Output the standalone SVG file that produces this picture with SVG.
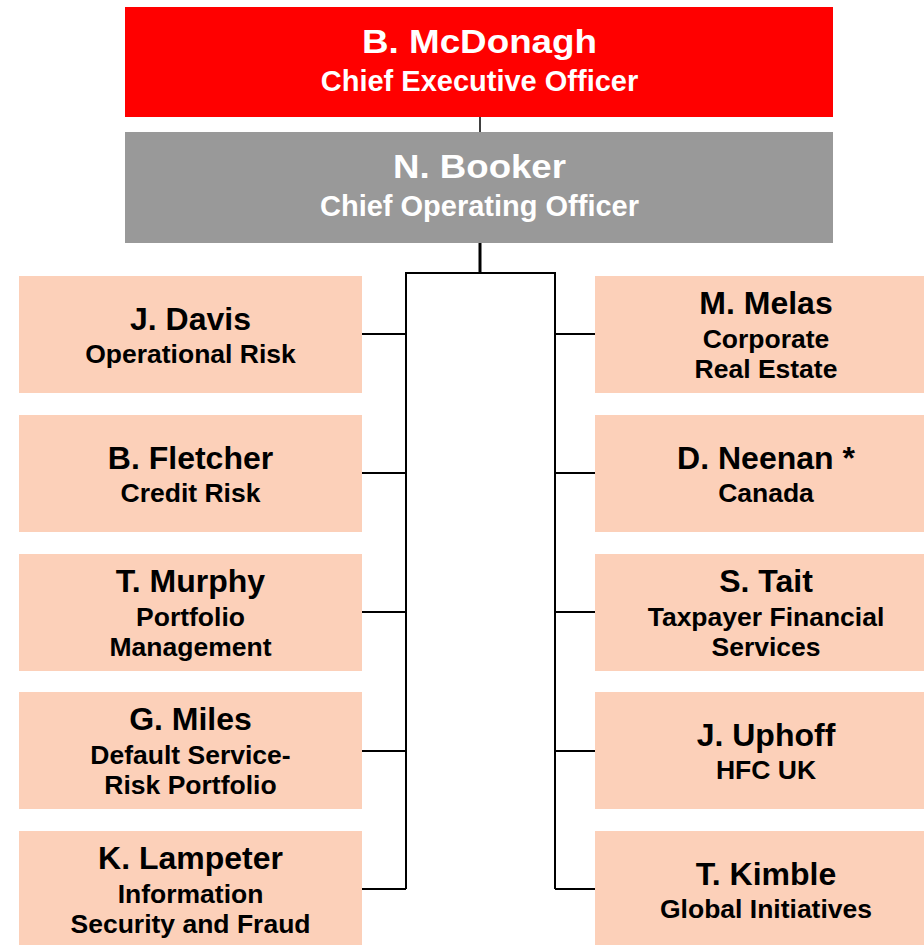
<svg xmlns="http://www.w3.org/2000/svg" width="924" height="945" viewBox="0 0 924 945">
<style>
text{font-family:"Liberation Sans",Arial,sans-serif;font-weight:bold;text-anchor:middle}
.exec{fill:#FF0000}
.coo{fill:#999999}
.box{fill:#FCD0B9}
.wn{fill:#FFFFFF;font-size:34px}
.ws{fill:#FFFFFF;font-size:29px}
.n{fill:#000000;font-size:32px}
.s{fill:#000000;font-size:26.5px}
.ln{stroke:#000000;stroke-width:2;fill:none}
</style>
<rect width="924" height="945" fill="#FFFFFF"/>
<g id="connectors">
<line class="ln" x1="480" y1="117" x2="480" y2="132" style="stroke-width:1.5"/>
<line class="ln" x1="480" y1="243" x2="480" y2="273" style="stroke-width:3"/>
<polyline class="ln" points="406,889 406,273 555,273 555,889"/>
<line class="ln" x1="362" y1="334" x2="406" y2="334"/>
<line class="ln" x1="362" y1="473" x2="406" y2="473"/>
<line class="ln" x1="362" y1="612" x2="406" y2="612"/>
<line class="ln" x1="362" y1="751" x2="406" y2="751"/>
<line class="ln" x1="362" y1="889" x2="406" y2="889"/>
<line class="ln" x1="555" y1="334" x2="595" y2="334"/>
<line class="ln" x1="555" y1="473" x2="595" y2="473"/>
<line class="ln" x1="555" y1="612" x2="595" y2="612"/>
<line class="ln" x1="555" y1="751" x2="595" y2="751"/>
<line class="ln" x1="555" y1="889" x2="595" y2="889"/>
</g>
<g id="ceo">
<rect class="exec" x="125" y="7" width="708" height="110"/>
<text class="wn" x="479.5" y="53" textLength="235" lengthAdjust="spacingAndGlyphs">B. McDonagh</text>
<text class="ws" x="479.5" y="91">Chief Executive Officer</text>
</g>
<g id="coo">
<rect class="coo" x="125" y="132" width="708" height="111"/>
<text class="wn" x="479.5" y="178" textLength="173" lengthAdjust="spacingAndGlyphs">N. Booker</text>
<text class="ws" x="479.5" y="216">Chief Operating Officer</text>
</g>
<g id="davis">
<rect class="box" x="19" y="276" width="343" height="117"/>
<text class="n" x="190.5" y="330">J. Davis</text>
<text class="s" x="190.5" y="363">Operational Risk</text>
</g>
<g id="fletcher">
<rect class="box" x="19" y="415" width="343" height="117"/>
<text class="n" x="190.5" y="469">B. Fletcher</text>
<text class="s" x="190.5" y="502">Credit Risk</text>
</g>
<g id="murphy">
<rect class="box" x="19" y="554" width="343" height="117"/>
<text class="n" x="190.5" y="592">T. Murphy</text>
<text class="s" x="190.5" y="626">Portfolio</text>
<text class="s" x="190.5" y="656">Management</text>
</g>
<g id="miles">
<rect class="box" x="19" y="692" width="343" height="117"/>
<text class="n" x="190.5" y="730">G. Miles</text>
<text class="s" x="190.5" y="764">Default Service-</text>
<text class="s" x="190.5" y="794">Risk Portfolio</text>
</g>
<g id="lampeter">
<rect class="box" x="19" y="831" width="343" height="117"/>
<text class="n" x="190.5" y="869">K. Lampeter</text>
<text class="s" x="190.5" y="903">Information</text>
<text class="s" x="190.5" y="933">Security and Fraud</text>
</g>
<g id="melas">
<rect class="box" x="595" y="276" width="343" height="117"/>
<text class="n" x="766" y="314">M. Melas</text>
<text class="s" x="766" y="348">Corporate</text>
<text class="s" x="766" y="378">Real Estate</text>
</g>
<g id="neenan">
<rect class="box" x="595" y="415" width="343" height="117"/>
<text class="n" x="766" y="469">D. Neenan *</text>
<text class="s" x="766" y="502">Canada</text>
</g>
<g id="tait">
<rect class="box" x="595" y="554" width="343" height="117"/>
<text class="n" x="766" y="592">S. Tait</text>
<text class="s" x="766" y="626">Taxpayer Financial</text>
<text class="s" x="766" y="656">Services</text>
</g>
<g id="uphoff">
<rect class="box" x="595" y="692" width="343" height="117"/>
<text class="n" x="766" y="746">J. Uphoff</text>
<text class="s" x="766" y="779">HFC UK</text>
</g>
<g id="kimble">
<rect class="box" x="595" y="831" width="343" height="117"/>
<text class="n" x="766" y="885">T. Kimble</text>
<text class="s" x="766" y="918">Global Initiatives</text>
</g>
</svg>
